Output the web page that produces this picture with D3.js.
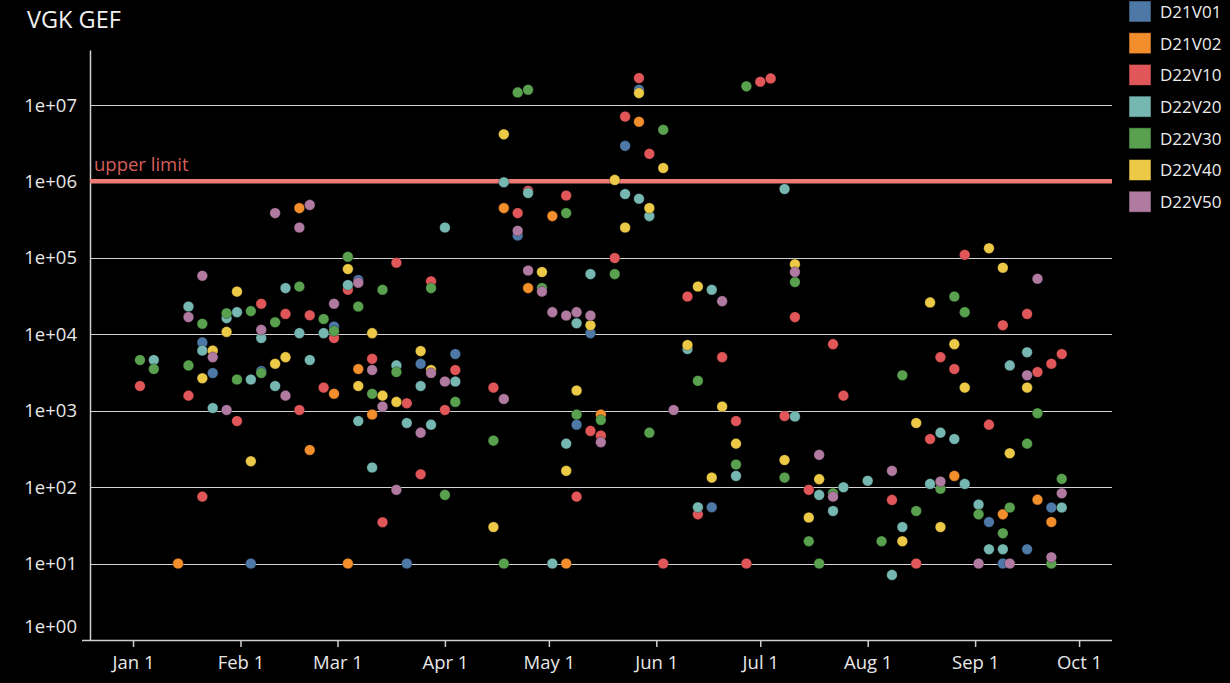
<!DOCTYPE html>
<meta charset="utf-8">
<style>
  body { margin: 0; background: #000; }
  text { font-family: "Open Sans", "Noto Sans", sans-serif; }
  .grid_line { stroke: #d4d4d4; stroke-width: 1.5px; shape-rendering: crispEdges; }
</style>
<script src="https://d3js.org/d3.v7.min.js"></script>
<div id="my_dataviz"></div>
<script>

// series names and colours (Tableau 10)
var seriesNames = ["D21V01", "D21V02", "D22V10", "D22V20", "D22V30", "D22V40", "D22V50"];
var seriesColors = ["#4e79a7", "#f28e2b", "#e15759", "#76b7b2", "#59a14f", "#edc948", "#b07aa1"];

// y ticks (log scale) and x ticks (months)
var yTicks = [1, 10, 100, 1000, 1e4, 1e5, 1e6, 1e7];
var xTicks = ["2022-01-01", "2022-02-01", "2022-03-01", "2022-04-01", "2022-05-01",
              "2022-06-01", "2022-07-01", "2022-08-01", "2022-09-01", "2022-10-01"];
var upperLimit = 1e6;

// measurements: [date, value]
var D21V01 = [["2022-01-21",7800],["2022-01-24",3100],["2022-02-04",10],["2022-02-07",3300],["2022-02-28",12600],
  ["2022-03-07",51000],["2022-03-21",10],["2022-03-25",4100],["2022-04-04",5500],["2022-04-22",195000],
  ["2022-05-09",655],["2022-05-13",10300],["2022-05-23",2900000],["2022-05-27",15700000],["2022-06-17",54.5],
  ["2022-09-05",35],["2022-09-09",10],["2022-09-16",15.4],["2022-09-23",54]];
var D21V02 = [["2022-01-14",10],["2022-02-18",445000],["2022-02-21",306],["2022-02-28",1660],["2022-03-04",10],
  ["2022-03-07",3500],["2022-03-11",890],["2022-04-18",445000],["2022-04-25",40000],["2022-05-02",350000],
  ["2022-05-06",10],["2022-05-16",890],["2022-05-27",6000000],["2022-08-26",140],["2022-09-09",44],
  ["2022-09-19",68.5],["2022-09-23",35]];
var D22V10 = [["2022-01-03",2100],["2022-01-17",1570],["2022-01-21",75],["2022-01-31",730],["2022-02-07",25000],
  ["2022-02-14",18400],["2022-02-18",1020],["2022-02-21",17700],["2022-02-25",2000],["2022-02-28",8900],
  ["2022-03-04",38000],["2022-03-11",4750],["2022-03-14",34.7],["2022-03-18",86000],["2022-03-21",1250],
  ["2022-03-25",147],["2022-03-28",49000],["2022-04-01",1020],["2022-04-04",3400],["2022-04-15",2000],
  ["2022-04-22",383000],["2022-04-25",750000],["2022-05-06",650000],["2022-05-09",75],["2022-05-13",543],
  ["2022-05-16",471],["2022-05-20",99000],["2022-05-23",7000000],["2022-05-27",22300000],["2022-05-30",2280000],
  ["2022-06-03",10],["2022-06-10",31000],["2022-06-13",44],["2022-06-20",5000],["2022-06-24",730],
  ["2022-06-27",10],["2022-07-01",20000000],["2022-07-04",22100000],["2022-07-08",850],["2022-07-11",16700],
  ["2022-07-15",92],["2022-07-22",7400],["2022-07-25",1570],["2022-08-08",68],["2022-08-15",10],
  ["2022-08-19",426],["2022-08-22",5000],["2022-08-26",3500],["2022-08-29",109000],["2022-09-05",655],
  ["2022-09-09",13100],["2022-09-16",18400],["2022-09-19",3200],["2022-09-23",4100],["2022-09-26",5500]];
var D22V20 = [["2022-01-07",4600],["2022-01-17",23000],["2022-01-21",6100],["2022-01-24",1080],["2022-01-28",16200],
  ["2022-01-31",19400],["2022-02-04",2550],["2022-02-07",8900],["2022-02-11",2100],["2022-02-14",40000],
  ["2022-02-18",10300],["2022-02-21",4600],["2022-02-25",10300],["2022-03-04",44000],["2022-03-07",730],
  ["2022-03-11",180],["2022-03-18",3900],["2022-03-21",690],["2022-03-25",2100],["2022-03-28",655],
  ["2022-04-01",248000],["2022-04-04",2400],["2022-04-18",970000],["2022-04-25",700000],["2022-05-02",10],
  ["2022-05-06",370],["2022-05-09",13900],["2022-05-13",61000],["2022-05-23",680000],["2022-05-27",590000],
  ["2022-05-30",350000],["2022-06-10",6400],["2022-06-13",54.5],["2022-06-17",38000],["2022-06-24",140],
  ["2022-07-08",790000],["2022-07-11",840],["2022-07-18",79],["2022-07-22",48.7],["2022-07-25",99.5],
  ["2022-08-01",121],["2022-08-08",7.1],["2022-08-11",30],["2022-08-19",110],["2022-08-22",515],
  ["2022-08-26",426],["2022-08-29",110],["2022-09-02",59],["2022-09-05",15.4],["2022-09-09",15.4],
  ["2022-09-11",3900],["2022-09-16",5800],["2022-09-26",54]];
var D22V30 = [["2022-01-03",4600],["2022-01-07",3500],["2022-01-17",3900],["2022-01-21",13700],["2022-01-28",18800],
  ["2022-01-31",2550],["2022-02-04",20000],["2022-02-07",3100],["2022-02-11",14300],["2022-02-18",42000],
  ["2022-02-25",15800],["2022-02-28",11000],["2022-03-04",103000],["2022-03-07",23000],["2022-03-11",1660],
  ["2022-03-14",38000],["2022-03-18",3200],["2022-03-28",40000],["2022-04-01",79],["2022-04-04",1300],
  ["2022-04-15",405],["2022-04-18",10],["2022-04-22",14500000],["2022-04-25",15700000],["2022-04-29",40000],
  ["2022-05-06",383000],["2022-05-09",890],["2022-05-16",755],["2022-05-20",61000],["2022-05-30",515],
  ["2022-06-03",4700000],["2022-06-13",2450],["2022-06-24",197],["2022-06-27",17400000],["2022-07-08",133],
  ["2022-07-11",48000],["2022-07-15",19.6],["2022-07-18",10],["2022-07-22",83],["2022-08-05",19.6],
  ["2022-08-11",2900],["2022-08-15",48.7],["2022-08-22",95],["2022-08-26",31000],["2022-08-29",19400],
  ["2022-09-02",44],["2022-09-09",24.9],["2022-09-11",54],["2022-09-16",370],["2022-09-19",925],
  ["2022-09-23",10],["2022-09-26",128]];
var D22V40 = [["2022-01-21",2650],["2022-01-24",6100],["2022-01-28",10700],["2022-01-31",36000],["2022-02-04",218],
  ["2022-02-11",4100],["2022-02-14",5000],["2022-03-04",71000],["2022-03-07",2100],["2022-03-11",10300],
  ["2022-03-14",1570],["2022-03-18",1300],["2022-03-25",6000],["2022-03-28",3400],["2022-04-15",30],
  ["2022-04-18",4100000],["2022-04-29",65000],["2022-05-06",163],["2022-05-09",1830],["2022-05-13",13100],
  ["2022-05-20",1040000],["2022-05-23",248000],["2022-05-27",14200000],["2022-05-30",445000],["2022-06-03",1490000],
  ["2022-06-10",7200],["2022-06-13",42000],["2022-06-17",133],["2022-06-20",1130],["2022-06-24",370],
  ["2022-07-08",226],["2022-07-11",82000],["2022-07-15",40],["2022-07-18",127],["2022-08-11",19.6],
  ["2022-08-15",690],["2022-08-19",26000],["2022-08-22",30],["2022-08-26",7400],["2022-08-29",2000],
  ["2022-09-05",133000],["2022-09-09",74000],["2022-09-11",277],["2022-09-16",2000]];
var D22V50 = [["2022-01-17",16700],["2022-01-21",58000],["2022-01-24",5000],["2022-01-28",1020],["2022-02-07",11400],
  ["2022-02-11",383000],["2022-02-14",1570],["2022-02-18",248000],["2022-02-21",490000],["2022-02-28",25000],
  ["2022-03-07",47000],["2022-03-11",3400],["2022-03-14",1130],["2022-03-18",92],["2022-03-25",515],
  ["2022-03-28",3100],["2022-04-01",2400],["2022-04-18",1420],["2022-04-22",225000],["2022-04-25",68000],
  ["2022-04-29",36000],["2022-05-02",19400],["2022-05-06",17500],["2022-05-09",19400],["2022-05-13",17500],
  ["2022-05-16",386],["2022-06-06",1020],["2022-06-20",27000],["2022-07-11",65000],["2022-07-18",264],
  ["2022-07-22",75],["2022-08-08",163],["2022-08-22",118],["2022-09-02",10],["2022-09-11",10],
  ["2022-09-16",2900],["2022-09-19",53000],["2022-09-23",12.1],["2022-09-26",83]];

var allSeries = [D21V01, D21V02, D22V10, D22V20, D22V30, D22V40, D22V50];

// set the dimensions of the page and the plot area
var W = 1230, H = 683;
var plot = {left: 90, right: 1112, top: 50, bottom: 640};

var svg = d3.select("#my_dataviz")
  .append("svg")
    .attr("width", W)
    .attr("height", H)
    .style("background", "#000");

var parseDate = d3.utcParse("%Y-%m-%d");

// x scale: from mid December to mid October
var x = d3.scaleUtc()
  .domain([new Date(Date.UTC(2021, 11, 19, 14)), new Date(Date.UTC(2022, 9, 10, 12))])
  .range([plot.left, plot.right]);

var y = d3.scaleLog()
  .domain([1, 5.2e7])
  .range([plot.bottom, plot.top]);

var color = d3.scaleOrdinal().domain(seriesNames).range(seriesColors);

// title
svg.append("text")
  .attr("x", 27)
  .attr("y", 28)
  .style("font-size", "23.5px")
  .style("fill", "#f0f0f0")
  .text("VGK GEF");

// horizontal grid lines (skip the bottom one, the axis sits there)
svg.append("g")
  .selectAll("line")
  .data(yTicks.filter(function(d) { return d > 1; }))
  .enter()
  .append("line")
    .attr("class", "grid_line")
    .attr("x1", plot.left)
    .attr("x2", plot.right)
    .attr("y1", function(d) { return Math.round(y(d)) + 0.5; })
    .attr("y2", function(d) { return Math.round(y(d)) + 0.5; });

// Y axis
var yAxis = svg.append("g")
  .attr("transform", "translate(" + plot.left + ",0)")
  .call(d3.axisLeft(y).tickValues(yTicks).tickSize(0).tickPadding(13)
    .tickFormat(function(d) { return "1e+" + d3.format("02d")(Math.round(Math.log10(d))); }));
yAxis.select(".domain").attr("stroke", "#cfcfcf").attr("stroke-width", 1.5);
yAxis.selectAll("text")
  .style("font-size", "18.5px")
  .style("font-family", "'Open Sans', sans-serif")
  .attr("fill", "#e8e8e8")
  .attr("dy", function(d) { return d === 1 ? "-0.38em" : "0.34em"; });

// X axis
var xAxis = svg.append("g")
  .attr("transform", "translate(0," + plot.bottom + ")")
  .call(d3.axisBottom(x).tickValues(xTicks.map(parseDate)).tickSize(7).tickPadding(9)
    .tickFormat(d3.utcFormat("%b %-d")));
xAxis.select(".domain").remove();
xAxis.append("line")
  .attr("x1", plot.left - 8)
  .attr("x2", plot.right)
  .attr("y1", 0.5)
  .attr("y2", 0.5)
  .attr("stroke", "#cfcfcf")
  .attr("stroke-width", 1.5);
xAxis.selectAll(".tick line").attr("stroke", "#cfcfcf").attr("stroke-width", 1.5);
xAxis.selectAll("text")
  .style("font-size", "18.5px")
  .style("font-family", "'Open Sans', sans-serif")
  .attr("fill", "#e8e8e8");

// upper limit reference line
svg.append("line")
  .attr("x1", plot.left)
  .attr("x2", plot.right)
  .attr("y1", y(upperLimit))
  .attr("y2", y(upperLimit))
  .attr("stroke", "#f07a76")
  .attr("stroke-width", 4.5);

svg.append("text")
  .attr("x", plot.left + 4)
  .attr("y", y(upperLimit) - 10)
  .style("font-size", "18.5px")
  .style("fill", "#d65f5c")
  .text("upper limit");

// the points
var dataReady = seriesNames.map(function(name, i) {
  return {name: name, values: allSeries[i].map(function(d) { return {date: parseDate(d[0]), value: d[1]}; })};
});

svg.selectAll("myDots")
  .data(dataReady)
  .enter()
  .append("g")
    .style("fill", function(d) { return color(d.name); })
  .selectAll("circle")
  .data(function(d) { return d.values; })
  .enter()
  .append("circle")
    .attr("cx", function(d) { return x(d.date); })
    .attr("cy", function(d) { return y(d.value); })
    .attr("r", 5.3)
    .attr("stroke", "rgba(0,0,0,0.35)")
    .attr("stroke-width", 0.8);

// legend
var legend = svg.append("g")
  .attr("transform", "translate(1129,1)");

legend.selectAll("rect")
  .data(seriesNames)
  .enter()
  .append("rect")
    .attr("x", 0)
    .attr("y", function(d, i) { return i * 31.7; })
    .attr("width", 22)
    .attr("height", 21)
    .style("fill", function(d) { return color(d); })
    .style("stroke", "rgba(0,0,0,0.5)")
    .style("stroke-width", 1);

legend.selectAll("text")
  .data(seriesNames)
  .enter()
  .append("text")
    .attr("x", 31)
    .attr("y", function(d, i) { return i * 31.7 + 11; })
    .attr("dy", "0.35em")
    .style("font-size", "17px")
    .style("fill", "#ececec")
    .text(function(d) { return d; });

</script>
